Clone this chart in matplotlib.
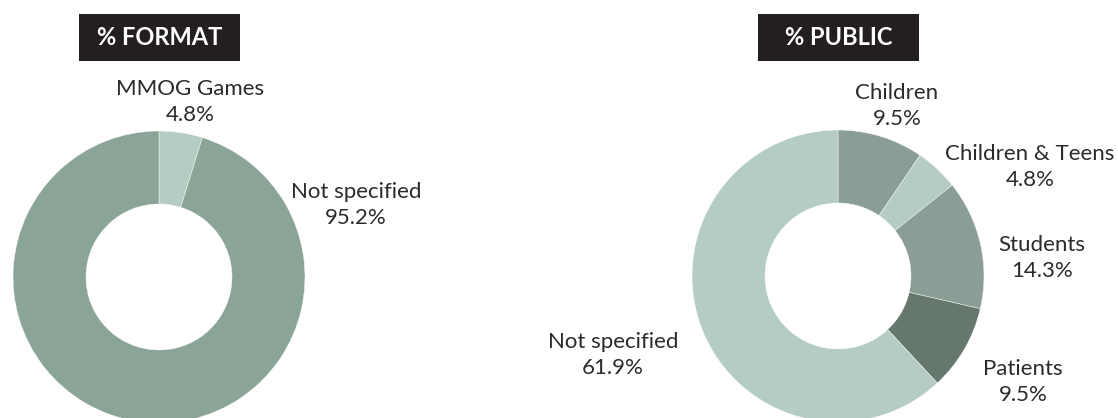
import matplotlib
matplotlib.use("Agg")
import matplotlib.pyplot as plt
from matplotlib.patches import Rectangle

# data
format_labels = ["MMOG Games", "Not specified"]
format_values = [4.8, 95.2]
format_colors = ["#b5ccc3", "#8aa597"]

public_labels = ["Children", "Children & Teens", "Students", "Patients", "Not specified"]
public_values = [9.5, 4.8, 14.3, 9.5, 61.9]
public_colors = ["#8b9e95", "#b5ccc3", "#8b9e95", "#66786e", "#b5ccc3"]

# label positions in pixels (layout only)
format_label_pos = [(190, 102), (356, 205)]
public_label_pos = [(897, 106), (1030, 167), (1042, 258), (1023, 382), (613, 355)]

W, H = 1118, 418
plt.rcParams["font.family"] = ["Lato", "DejaVu Sans"]
fig = plt.figure(figsize=(W / 100, H / 100), dpi=100)


def fx(x):
    return x / W


def fy(y):
    return 1 - y / H


def donut(cx, cy, r, values, colors, labels, positions, title, box):
    ax = fig.add_axes([fx(cx - r), fy(cy + r), 2 * r / W, 2 * r / H])
    ax.pie(values, colors=colors, startangle=90, counterclock=False,
           radius=1, wedgeprops=dict(width=0.5, edgecolor="white", linewidth=0.3))
    ax.set_xlim(-1, 1)
    ax.set_ylim(-1, 1)
    ax.set_axis_off()
    for lab, v, (x, y) in zip(labels, values, positions):
        fig.text(fx(x), fy(y), f"{lab}\n{v}%", ha="center", va="center",
                 fontsize=16, color="#2b2b2b", linespacing=1.4)
    bx0, by0, bx1, by1 = box
    fig.patches.append(Rectangle((fx(bx0), fy(by1)), fx(bx1) - fx(bx0), fy(by0) - fy(by1),
                                 transform=fig.transFigure, facecolor="#231f20",
                                 edgecolor="none"))
    fig.text(fx((bx0 + bx1) / 2), fy((by0 + by1) / 2), title, ha="center", va="center",
             fontsize=17, fontweight="bold", color="white")


donut(159, 277, 146, format_values, format_colors, format_labels, format_label_pos,
      "% FORMAT", (79, 14, 240, 61))
donut(838, 276, 146, public_values, public_colors, public_labels, public_label_pos,
      "% PUBLIC", (758, 14, 919, 61))

fig.savefig("out.png", dpi=100)
